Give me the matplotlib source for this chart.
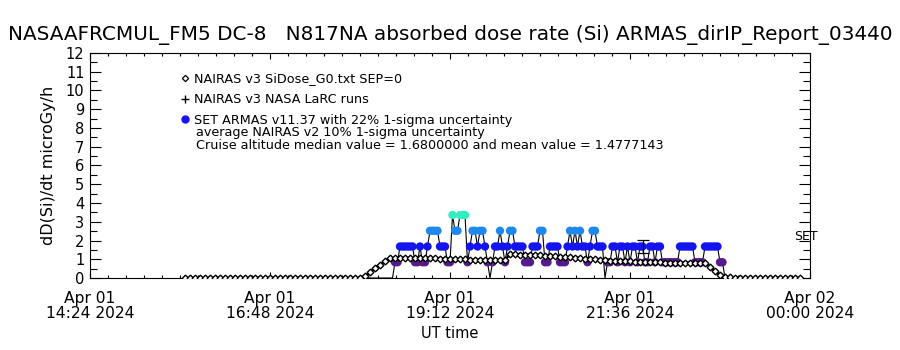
import numpy as np
import matplotlib
matplotlib.use("Agg")
import matplotlib.pyplot as plt
from matplotlib.ticker import MultipleLocator, FixedLocator
from matplotlib.lines import Line2D

# ---------------- data ----------------
title = "NASAAFRCMUL_FM5 DC-8   N817NA absorbed dose rate (Si) ARMAS_dirIP_Report_03440"
y_label = "dD(Si)/dt microGy/h"
x_label = "UT time"

# time axis in minutes since 2024-04-01 00:00 UT
x_tick_pos = [864, 1008, 1152, 1296, 1440]
x_tick_labels = ["Apr 01\n14:24 2024", "Apr 01\n16:48 2024", "Apr 01\n19:12 2024",
                 "Apr 01\n21:36 2024", "Apr 02\n00:00 2024"]
y_ticks = list(range(0, 13))

# NAIRAS v3 SiDose_G0 (diamonds), every 4 min starting 15:40 UT
nairas_t = np.arange(940, 1433, 4)
nairas_v = [0]*36 + [
    0.10, 0.30, 0.55, 0.70, 0.90,
    1.05, 1.06, 1.07, 1.07, 1.07, 1.07, 1.06, 1.06, 1.05, 1.05, 1.04, 1.03, 1.02,
    1.00, 1.00, 0.99, 0.98, 0.97, 0.97, 0.96, 0.96, 0.96, 0.96, 0.97,
    1.26, 1.26, 1.25, 1.25, 1.24, 1.23, 1.22, 1.20, 1.18, 1.16, 1.14, 1.12, 1.10,
    1.08, 1.06, 1.04, 1.02, 1.00, 0.98, 0.95, 0.93, 0.92, 0.91, 0.90, 0.89, 0.88,
    0.87, 0.86, 0.85, 0.84, 0.83,
    0.82, 0.82, 0.82, 0.82, 0.82, 0.82, 0.82, 0.82, 0.82,
    0.60, 0.35, 0.18, 0.08, 0.03] + [0]*14

# SET ARMAS v11.37 (quantized dose rate), every 2 min starting 18:04 UT
armas_t = np.arange(1084, 1377, 2)
armas_v = [
    0, 0, 0, 0, 0, 0, 0, 0, 0, 0,
    0, 0, 0.84, 0.84, 1.68, 1.68, 1.68, 1.68, 1.68, 1.68,
    0.84, 0.84, 1.68, 0.84, 0.84, 1.68, 2.52, 2.52, 2.52, 2.52,
    1.68, 1.68, 1.68, 0.84, 0.84, 3.36, 2.52, 2.52, 3.36, 3.36,
    3.36, 0.84, 1.68, 2.52, 2.52, 1.68, 2.52, 2.52, 1.68, 0.84,
    0, 0.84, 1.68, 1.68, 2.52, 1.68, 0.84, 1.68, 2.52, 2.52,
    1.68, 1.68, 1.68, 1.68, 0.84, 0.84, 0.84, 1.68, 1.68, 1.68,
    2.52, 2.52, 0.84, 0.84, 1.68, 1.68, 1.68, 1.68, 0.84, 0.84,
    0.84, 1.68, 2.52, 1.68, 2.52, 1.68, 2.52, 1.68, 1.68, 0.84,
    1.68, 2.52, 2.52, 1.68, 1.68, 1.68, 0, 0.84, 0.84, 1.68,
    1.68, 0.84, 1.68, 1.68, 0.84, 1.68, 0.84, 1.68, 1.68, 0.84,
    1.68, 1.68, 0.84, 0.84, 1.68, 1.68, 0.84, 1.68, 1.68, 0.84,
    0.84, 0.84, 0.84, 0.84, 0.84, 0.84, 1.68, 1.68, 1.68, 1.68,
    1.68, 1.68, 0.84, 0.84, 0.84, 0.84, 1.68, 1.68, 1.68, 1.68,
    1.68, 1.68, 0.84, 0.84, 0, 0, 0]
level_colors = {0.84: "#561a8c", 1.68: "#1414f0", 2.52: "#1e88ee", 3.36: "#30eec0"}

# SET uncertainty bar
err_t = [1306]
err_v = [1.68]
err_e = [0.37]

legend_labels = ["NAIRAS v3 SiDose_G0.txt SEP=0", "NAIRAS v3 NASA LaRC runs",
                 "SET ARMAS v11.37 with 22% 1-sigma uncertainty"]
note1 = "average NAIRAS v2 10% 1-sigma uncertainty"
note2 = "Cruise altitude median value = 1.6800000 and mean value = 1.4777143"

# ---------------- plot ----------------
plt.rcParams['font.family'] = ['DejaVu Sans']
fig = plt.figure(figsize=(9, 3.5), dpi=100)
ax = fig.add_axes([0.1, 0.2057, 0.8, 0.6429])

# ARMAS connecting line and markers
ax.plot(armas_t, armas_v, color="black", lw=0.8, zorder=2)
pts = [(t, v) for t, v in zip(armas_t, armas_v) if v in level_colors]
ax.scatter([p[0] for p in pts], [p[1] for p in pts],
           c=[level_colors[p[1]] for p in pts], s=36, marker='o',
           linewidths=0, zorder=3)

# NAIRAS diamonds
ax.plot(nairas_t, nairas_v, color="black", lw=1.8, marker='D', ms=3.4,
        mfc='white', mec='black', mew=1.0, zorder=4)

# error bar
ax.errorbar(err_t, err_v, yerr=err_e, fmt='none', ecolor='black', elinewidth=0.9,
            capsize=4, capthick=0.9, zorder=5)

ax.text(1437, 2.2, "SET", ha='center', va='center', fontsize=9, clip_on=False)

ax.set_xlim(864, 1440)
ax.set_ylim(0, 12)
ax.xaxis.set_major_locator(FixedLocator(x_tick_pos))
ax.set_xticklabels(x_tick_labels, fontsize=11.2, linespacing=1.0)
ax.xaxis.set_minor_locator(MultipleLocator(14.4))
ax.set_yticks(y_ticks)
ax.set_yticklabels([str(v) for v in y_ticks], fontsize=10.5)
ax.yaxis.set_minor_locator(MultipleLocator(0.5))
ax.tick_params(axis='both', which='both', direction='in', top=True, right=True, width=0.8)
ax.tick_params(axis='y', which='major', length=8, pad=4)
ax.tick_params(axis='y', which='minor', length=5)
ax.tick_params(axis='x', which='major', length=4, pad=9)
ax.tick_params(axis='x', which='minor', length=2.5)
for s in ax.spines.values():
    s.set_linewidth(0.8)

ax.set_xlabel(x_label, fontsize=10.5, labelpad=4)
ax.set_ylabel(y_label, fontsize=11.5, labelpad=7)
fig.text(0.5, 0.90, title, ha='center', va='center', fontsize=14.4)

handles = [Line2D([], [], ls='none', marker='D', ms=3.2, mfc='white', mec='black', mew=0.9),
           Line2D([], [], ls='none', marker='+', ms=6, mec='black', mew=1.0),
           Line2D([], [], ls='none', marker='o', ms=5, mfc='#1414f0', mec='#1414f0')]
ax.legend(handles, legend_labels, loc='upper left', bbox_to_anchor=(0.127, 0.915),
          frameon=False, fontsize=9.2, handlelength=0.6, handletextpad=0.4,
          labelspacing=0.62, borderpad=0, borderaxespad=0)
ax.text(0.147, 0.646, note1, transform=ax.transAxes, fontsize=9.2, va='center')
ax.text(0.147, 0.590, note2, transform=ax.transAxes, fontsize=9.2, va='center')

fig.savefig("out.png", dpi=100)
